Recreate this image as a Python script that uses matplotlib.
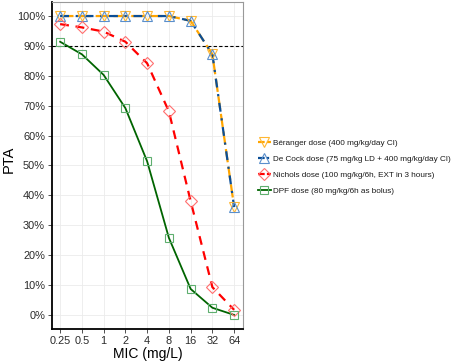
import numpy as np
from matplotlib import pyplot as plt
from matplotlib.lines import Line2D

plt.rcParams['font.family'] = ['Liberation Sans', 'DejaVu Sans']

mic = [0.25, 0.5, 1, 2, 4, 8, 16, 32, 64]
mic_labels = ["0.25", "0.5", "1", "2", "4", "8", "16", "32", "64"]

beranger = [100, 100, 100, 100, 100, 100, 98.4, 87.2, 36.1]
decock = [100, 100, 100, 100, 100, 100, 98.4, 87.2, 36.1]
nichols = [97.3, 96.2, 94.8, 91.4, 84.2, 68.1, 38.1, 9.3, 1.7]
dpf = [91.4, 87.2, 80.3, 69.2, 51.4, 25.8, 8.7, 2.4, 0.0]

labels = ["Béranger dose (400 mg/kg/day CI)",
          "De Cock dose (75 mg/kg LD + 400 mg/kg/day CI)",
          "Nichols dose (100 mg/kg/6h, EXT in 3 hours)",
          "DPF dose (80 mg/kg/6h as bolus)"]

fig = plt.figure(figsize=(4.57, 3.63), dpi=100)
ax = fig.add_axes([0.1138, 0.0937, 0.418, 0.9008])

ax.set_xscale('log', base=2)
ax.set_xlim(0.193, 85)
ax.set_ylim(-4.7, 104.7)

ax.grid(True, color='#ebebeb', linewidth=0.6)
ax.set_axisbelow(True)

ax.axhline(90, color='black', linestyle=(0, (3, 2)), linewidth=0.8, zorder=1)

# lines
ax.plot(mic, beranger, color='#FFA500', linewidth=1.6, linestyle=(0, (6, 2)), zorder=3)
ax.plot(mic, decock, color='#0B4E96', linewidth=1.6, linestyle=(0, (4, 3, 1, 3)), zorder=4)
ax.plot(mic, nichols, color='#FF0000', linewidth=1.6, linestyle=(0, (4, 3)), zorder=3)
ax.plot(mic, dpf, color='#006400', linewidth=1.3, zorder=3)

# markers
ax.plot(mic, beranger, linestyle='none', marker='v', markersize=7, markerfacecolor='none',
        markeredgecolor='#FFB733', markeredgewidth=0.8, zorder=5)
ax.plot(mic, decock, linestyle='none', marker='^', markersize=7, markerfacecolor='none',
        markeredgecolor='#5A8FCC', markeredgewidth=0.8, zorder=5)
ax.plot(mic, nichols, linestyle='none', marker='D', markersize=6, markerfacecolor='none',
        markeredgecolor='#FF6F6F', markeredgewidth=0.8, zorder=5)
ax.plot(mic, dpf, linestyle='none', marker='s', markersize=6, markerfacecolor='none',
        markeredgecolor='#5FAF6F', markeredgewidth=0.8, zorder=5)

ax.set_xticks(mic)
ax.set_xticklabels(mic_labels)
ax.xaxis.set_minor_locator(plt.NullLocator())
yt = np.arange(0, 101, 10)
ax.set_yticks(yt)
ax.set_yticklabels([f"{v}%" for v in yt])
ax.tick_params(axis='both', labelsize=7.9, colors='#333333', length=3, width=0.6, pad=2)
ax.tick_params(axis='both', labelcolor='#2b2b2b')

for side in ['left', 'bottom']:
    ax.spines[side].set_color('black')
    ax.spines[side].set_linewidth(1.3)
for side in ['top', 'right']:
    ax.spines[side].set_color('#999999')
    ax.spines[side].set_linewidth(0.8)

ax.set_xlabel("MIC (mg/L)", fontsize=10, labelpad=1)
ax.set_ylabel("PTA", fontsize=10.5)
ax.yaxis.set_label_coords(-0.19, 0.52)

handles = [
    Line2D([], [], color='#FFA500', linewidth=1.6, linestyle=(0, (3, 1)), marker='v', markersize=7,
           markerfacecolor='none', markeredgecolor='#FFB733', markeredgewidth=0.8),
    Line2D([], [], color='#0B4E96', linewidth=1.6, linestyle=(0, (3, 1, 1, 1)), marker='^', markersize=7,
           markerfacecolor='none', markeredgecolor='#5A8FCC', markeredgewidth=0.8),
    Line2D([], [], color='#FF0000', linewidth=1.6, linestyle=(0, (3, 1)), marker='D', markersize=6,
           markerfacecolor='none', markeredgecolor='#FF6F6F', markeredgewidth=0.8),
    Line2D([], [], color='#006400', linewidth=1.3, marker='s', markersize=6,
           markerfacecolor='none', markeredgecolor='#5FAF6F', markeredgewidth=0.8),
]
fig.legend(handles, labels, loc='upper left', bbox_to_anchor=(0.555, 0.628), frameon=False,
           fontsize=5.9, handlelength=1.6, handletextpad=0.3, labelspacing=1.0,
           borderpad=0, labelcolor='#1a1a1a')

fig.savefig("out.png", dpi=100)
